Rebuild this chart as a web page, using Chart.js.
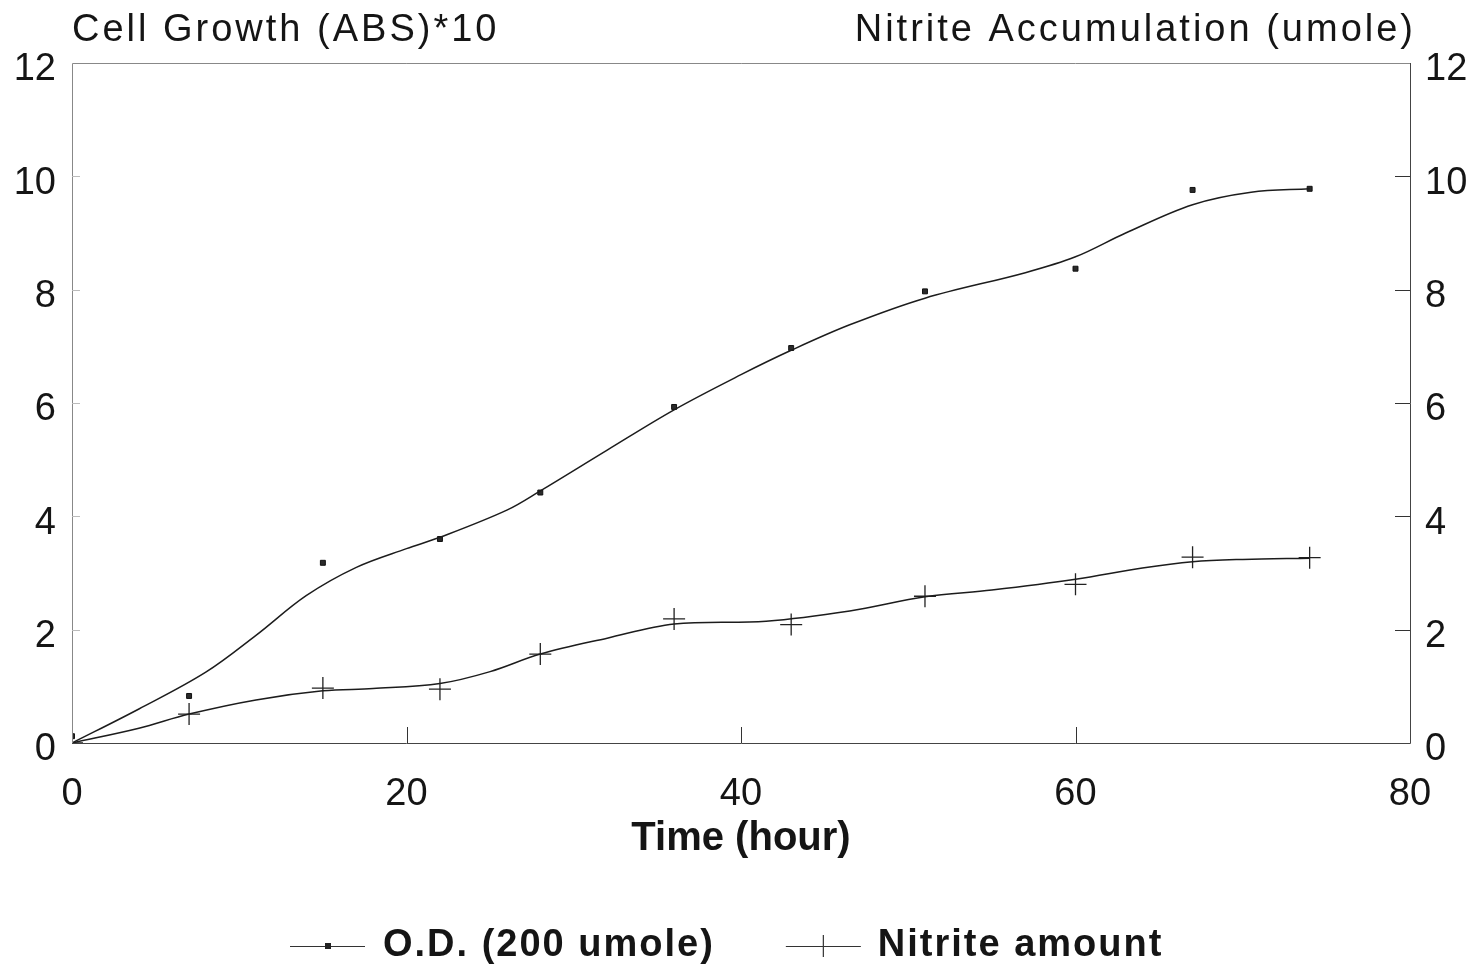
<!DOCTYPE html>
<html><head><meta charset="utf-8">
<script src="https://cdn.jsdelivr.net/npm/chart.js@4/dist/chart.umd.min.js"></script>
<style>html,body{margin:0;padding:0;background:#fff;}canvas{display:block;}</style>
</head><body>
<canvas id="c" width="1482" height="971"></canvas>
<script>
// ---- data ----
const sampleTime = [0, 7, 15, 22, 28, 36, 43, 51, 60, 67, 74];
const odValues = [0.12, 0.83, 3.18, 3.6, 4.42, 5.93, 6.97, 7.97, 8.37, 9.76, 9.78];
const nitriteValues = [0, 0.51, 0.97, 0.95, 1.57, 2.19, 2.09, 2.59, 2.8, 3.28, 3.27];
// fitted (smoothed) curves
const odFitTime = [0, 4, 8, 11, 14, 17, 20, 22, 26, 28, 32, 36, 40, 43, 46.5, 51, 57, 60, 63, 67, 70.5, 74];
const odFitValues = [0, 0.6, 1.25, 1.9, 2.6, 3.1, 3.43, 3.63, 4.11, 4.45, 5.17, 5.88, 6.5, 6.93, 7.38, 7.85, 8.3, 8.58, 9.0, 9.5, 9.72, 9.78];
const nitFitTime = [0, 4, 7, 11, 15, 18, 22, 25, 28, 32, 36, 41.5, 46.5, 51, 55, 60, 64, 67, 70, 74];
const nitFitValues = [0, 0.26, 0.51, 0.76, 0.92, 0.96, 1.05, 1.26, 1.57, 1.85, 2.1, 2.15, 2.33, 2.58, 2.7, 2.89, 3.09, 3.2, 3.24, 3.26];
const xTicks = [0, 20, 40, 60, 80];
const yTicks = [0, 2, 4, 6, 8, 10, 12];
const leftTitle = 'Cell Growth (ABS)*10';
const rightTitle = 'Nitrite Accumulation (umole)';
const xTitle = 'Time (hour)';
const seriesNames = ['O.D. (200 umole)', 'Nitrite amount'];

const FONT = '"Liberation Sans", Arial, Helvetica, sans-serif';
const INK = '#151515';
const pts = (xs, ys) => xs.map((x, i) => ({x, y: ys[i]}));

const decor = {
  id: 'decor',
  afterDraw(chart) {
    const {ctx, chartArea: a, scales} = chart;
    ctx.save();
    // frame: lighter top/left, darker bottom/right
    ctx.lineWidth = 1;
    ctx.strokeStyle = '#888';
    ctx.beginPath();
    ctx.moveTo(a.left + 0.5, a.bottom); ctx.lineTo(a.left + 0.5, a.top + 0.5); ctx.lineTo(a.right, a.top + 0.5);
    ctx.stroke();
    ctx.strokeStyle = '#444';
    ctx.beginPath();
    ctx.moveTo(a.left, a.bottom + 0.5); ctx.lineTo(a.right + 0.5, a.bottom + 0.5); ctx.lineTo(a.right + 0.5, a.top);
    ctx.stroke();
    ctx.strokeStyle = '#333';
    ctx.beginPath();
    scales.x.ticks.forEach(t => {
      if (t.value <= scales.x.min || t.value >= scales.x.max) return;
      const px = Math.round(scales.x.getPixelForValue(t.value)) + 0.5;
      ctx.moveTo(px, a.bottom); ctx.lineTo(px, a.bottom - 16);
    });
    scales.y2.ticks.forEach(t => {
      if (t.value <= scales.y2.min || t.value >= scales.y2.max) return;
      const py = Math.round(scales.y2.getPixelForValue(t.value)) + 0.5;
      ctx.moveTo(a.right, py); ctx.lineTo(a.right - 15, py);
    });
    ctx.stroke();
    ctx.strokeStyle = '#bbb';
    ctx.beginPath();
    scales.y.ticks.forEach(t => {
      if (t.value <= scales.y.min || t.value >= scales.y.max) return;
      const py = Math.round(scales.y.getPixelForValue(t.value)) + 0.5;
      ctx.moveTo(a.left, py); ctx.lineTo(a.left + 8, py);
    });
    ctx.stroke();
    // axis titles at the top
    ctx.fillStyle = INK;
    ctx.font = '38px ' + FONT;
    ctx.letterSpacing = '3px';
    ctx.textBaseline = 'alphabetic';
    ctx.textAlign = 'left';
    ctx.fillText(leftTitle, a.left, 41);
    ctx.textAlign = 'right';
    ctx.fillText(rightTitle, a.right + 6, 41);
    // legend
    const ly = 946;
    ctx.font = 'bold 38px ' + FONT;
    ctx.letterSpacing = '2px';
    ctx.textAlign = 'left';
    ctx.textBaseline = 'middle';
    let x = 290;
    const sampleW = 75;
    ctx.strokeStyle = '#333'; ctx.lineWidth = 1.2;
    ctx.beginPath(); ctx.moveTo(x, ly + 0.5); ctx.lineTo(x + sampleW, ly + 0.5); ctx.stroke();
    ctx.fillStyle = '#222';
    ctx.fillRect(x + 35, ly - 3, 6, 6);
    ctx.fillStyle = INK;
    ctx.fillText(seriesNames[0], x + sampleW + 18, ly);
    x = x + sampleW + 18 + ctx.measureText(seriesNames[0]).width + 71;
    ctx.beginPath(); ctx.moveTo(x, ly + 0.5); ctx.lineTo(x + sampleW, ly + 0.5);
    ctx.moveTo(x + 37.5, ly - 11); ctx.lineTo(x + 37.5, ly + 11); ctx.stroke();
    ctx.fillText(seriesNames[1], x + sampleW + 17, ly);
    ctx.restore();
  }
};

const tickFont = {size: 38, family: FONT};
new Chart(document.getElementById('c'), {
  type: 'line',
  data: {
    datasets: [
      {label: seriesNames[0] + ' fit', data: pts(odFitTime, odFitValues), yAxisID: 'y',
       borderColor: '#1c1c1c', borderWidth: 1.5, pointRadius: 0, tension: 0.35, fill: false},
      {label: seriesNames[0], data: pts(sampleTime, odValues), yAxisID: 'y', showLine: false,
       pointStyle: 'rect', pointRadius: 3.5, backgroundColor: '#2a2a2a', borderColor: '#111', borderWidth: 1},
      {label: seriesNames[1] + ' fit', data: pts(nitFitTime, nitFitValues), yAxisID: 'y2',
       borderColor: '#1c1c1c', borderWidth: 1.5, pointRadius: 0, tension: 0.35, fill: false},
      {label: seriesNames[1], data: pts(sampleTime, nitriteValues), yAxisID: 'y2', showLine: false,
       pointStyle: 'cross', pointRadius: 11, borderColor: '#222', borderWidth: 1.3, backgroundColor: '#222'}
    ]
  },
  options: {
    responsive: false, devicePixelRatio: 1, animation: false,
    layout: {padding: {top: 63, left: 0, right: 0, bottom: 98}},
    plugins: {legend: {display: false}, tooltip: {enabled: false}},
    scales: {
      x: {type: 'linear', min: 0, max: 80,
          afterBuildTicks: s => { s.ticks = xTicks.map(v => ({value: v})); },
          ticks: {font: tickFont, color: INK, padding: 29, maxRotation: 0},
          grid: {display: false, drawTicks: false}, border: {display: false},
          title: {display: true, text: xTitle, color: INK, font: {size: 40, weight: 'bold', family: FONT}, padding: {top: 0, bottom: 10}},
          afterFit: s => { s.height = 130; }},
      y: {position: 'left', min: 0, max: 12,
          afterBuildTicks: s => { s.ticks = yTicks.map(v => ({value: v})); },
          ticks: {font: tickFont, color: INK, padding: 16, labelOffset: 7},
          grid: {display: false, drawTicks: false}, border: {display: false},
          afterFit: s => { s.width = 72; }},
      y2: {position: 'right', min: 0, max: 12,
          afterBuildTicks: s => { s.ticks = yTicks.map(v => ({value: v})); },
          ticks: {font: tickFont, color: INK, padding: 15, labelOffset: 7},
          grid: {display: false, drawTicks: false}, border: {display: false},
          afterFit: s => { s.width = 72; }}
    }
  },
  plugins: [decor]
});
</script>
</body></html>
